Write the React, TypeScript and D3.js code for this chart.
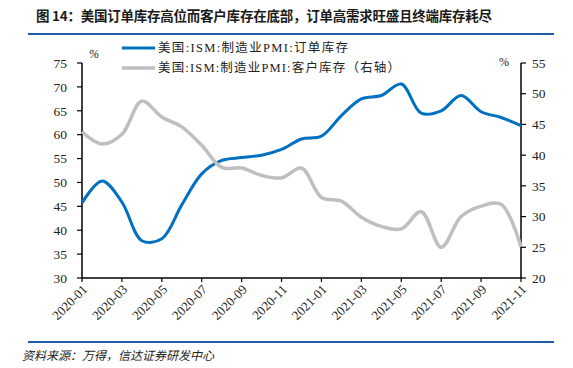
import React from "react";
import * as d3 from "d3";

const months = [
  "2020-01","2020-02","2020-03","2020-04","2020-05","2020-06","2020-07","2020-08","2020-09","2020-10","2020-11","2020-12",
  "2021-01","2021-02","2021-03","2021-04","2021-05","2021-06","2021-07","2021-08","2021-09","2021-10","2021-11",
];
const backlogOrders = [45.7, 50.3, 45.9, 37.8, 38.2, 45.3, 51.8, 54.6, 55.2, 55.7, 56.9, 59.1, 59.7, 64.0, 67.5, 68.2, 70.6, 64.5, 65.0, 68.2, 64.8, 63.6, 61.9];
const customerInv = [43.8, 41.8, 43.4, 48.8, 46.2, 44.6, 41.6, 38.0, 37.9, 36.7, 36.3, 37.9, 33.1, 32.5, 29.9, 28.4, 28.0, 30.8, 25.0, 30.0, 31.7, 32.0, 25.1];
const leftTicks = [30, 35, 40, 45, 50, 55, 60, 65, 70, 75];
const rightTicks = [20, 25, 30, 35, 40, 45, 50, 55];
const seriesNames = ["美国:ISM:制造业PMI:订单库存", "美国:ISM:制造业PMI:客户库存（右轴）"];
const title = "图 14：美国订单库存高位而客户库存在底部，订单高需求旺盛且终端库存耗尽";
const source = "资料来源：万得，信达证券研发中心";

const FONT = "'Liberation Serif', 'Noto Sans CJK SC', serif";

export default function App() {
  const W = 573, H = 368;
  const x0 = 82, x1 = 521, yTop = 63, yBot = 278;
  const x = d3.scalePoint<string>().domain(months).range([x0, x1]);
  const yL = d3.scaleLinear().domain([30, 75]).range([yBot, yTop]);
  const yR = d3.scaleLinear().domain([20, 55]).range([yBot, yTop]);
  const curve = d3.curveCatmullRom.alpha(0.5);
  const lineL = d3.line<number>().x((_, i) => x(months[i])!).y((d) => yL(d)).curve(curve);
  const lineR = d3.line<number>().x((_, i) => x(months[i])!).y((d) => yR(d)).curve(curve);
  const xTicks = months.filter((_, i) => i % 2 === 0);
  const blue = "#0070C0";
  const gray = "#BFBFBF";

  return (
    <svg width={W} height={H} style={{ position: "absolute", left: 0, top: 0, background: "#fff" }}>
      <rect x={0} y={0} width={W} height={H} fill="#fff" />
      <text x={36} y={21} fontFamily="'Noto Sans CJK SC', sans-serif" fontWeight="bold" fontSize={13.5} fill="#1a1a1a" textLength={456} lengthAdjust="spacing">{title}</text>
      <line x1={28} x2={554} y1={34} y2={34} stroke="#1a5fa8" strokeWidth={2} />

      {/* left axis */}
      <line x1={x0} x2={x0} y1={yTop} y2={yBot} stroke="#000" strokeWidth={1.5} />
      {leftTicks.map((t) => (
        <g key={"l" + t}>
          <line x1={x0 - 5} x2={x0} y1={yL(t)} y2={yL(t)} stroke="#000" strokeWidth={1.2} />
          <text x={67} y={yL(t)} dy="0.35em" textAnchor="end" fontFamily={FONT} fontSize={13.5} fill="#222">{t}</text>
        </g>
      ))}
      {/* right axis */}
      <line x1={x1} x2={x1} y1={yTop} y2={yBot} stroke="#000" strokeWidth={1.5} />
      {rightTicks.map((t) => (
        <g key={"r" + t}>
          <line x1={x1} x2={x1 + 5} y1={yR(t)} y2={yR(t)} stroke="#000" strokeWidth={1.2} />
          <text x={532} y={yR(t)} dy="0.35em" textAnchor="start" fontFamily={FONT} fontSize={13.5} fill="#222">{t}</text>
        </g>
      ))}
      {/* x axis */}
      <line x1={x0} x2={x1} y1={yBot} y2={yBot} stroke="#000" strokeWidth={1.5} />
      {xTicks.map((m) => (
        <g key={m}>
          <line x1={x(m)!} x2={x(m)!} y1={yBot} y2={yBot + 4} stroke="#000" strokeWidth={1.2} />
          <text transform={`translate(${x(m)! + 3},${yBot + 9}) rotate(-45)`} textAnchor="end" dy="0.35em" fontFamily={FONT} fontSize={13} fill="#222">{m}</text>
        </g>
      ))}
      <text x={89} y={58} fontFamily={FONT} fontSize={12} fontStyle="italic" fill="#222">%</text>
      <text x={499} y={66} fontFamily={FONT} fontSize={12} fill="#222">%</text>

      <path d={lineL(backlogOrders)!} fill="none" stroke={blue} strokeWidth={3} />
      <path d={lineR(customerInv)!} fill="none" stroke={gray} strokeWidth={3.5} />

      {/* legend */}
      <line x1={122} x2={155} y1={48} y2={48} stroke={blue} strokeWidth={3} />
      <text x={158} y={48} dy="0.35em" fontFamily={FONT} fontSize={12.5} fill="#222" textLength={190} lengthAdjust="spacing">{seriesNames[0]}</text>
      <line x1={122} x2={155} y1={68} y2={68} stroke={gray} strokeWidth={3.5} />
      <text x={158} y={68} dy="0.35em" fontFamily={FONT} fontSize={12.5} fill="#222" textLength={242} lengthAdjust="spacing">{seriesNames[1]}</text>

      <line x1={28} x2={554} y1={342} y2={342} stroke="#1a5fa8" strokeWidth={2} />
      <text x={22} y={360} fontFamily="'Noto Sans CJK SC', sans-serif" fontStyle="italic" fontSize={12} fill="#222">{source}</text>
    </svg>
  );
}
